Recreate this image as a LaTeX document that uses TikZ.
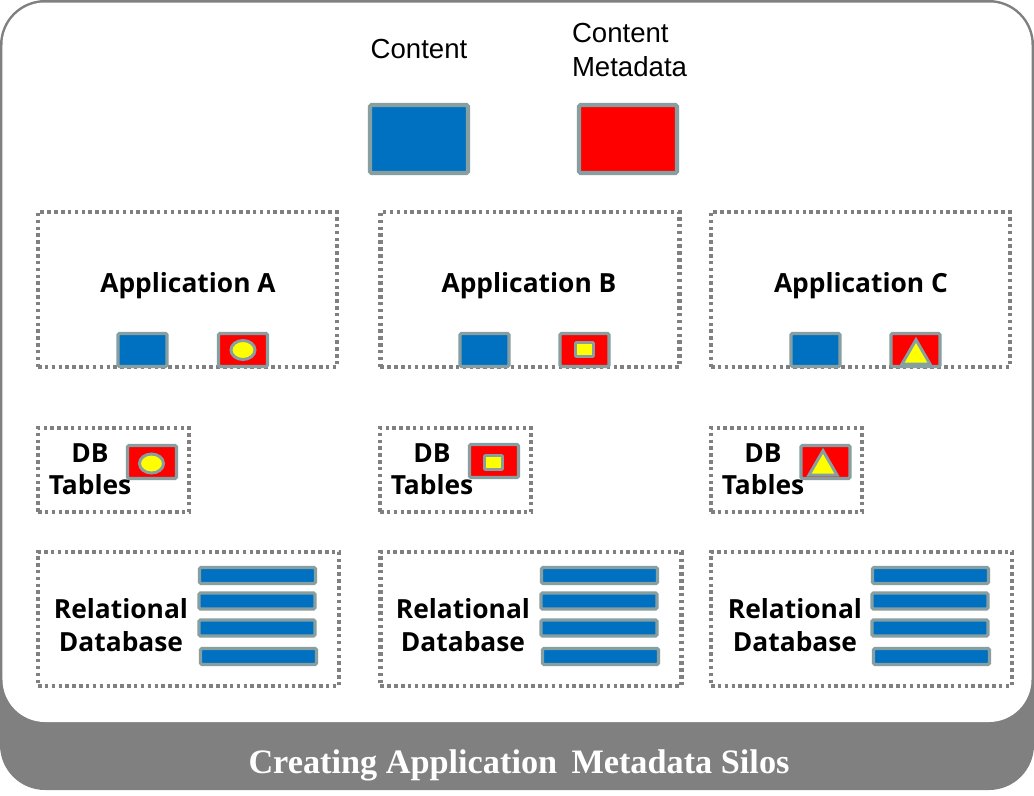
\documentclass[tikz,border=0pt]{standalone}
\usepackage{fontspec}
\setmainfont{Liberation Sans}
\newfontfamily\silofont{Open Sans}
\newfontfamily\capfont{Liberation Serif}
\usetikzlibrary{shapes.geometric}
\definecolor{contblue}{HTML}{0070C0}
\definecolor{metared}{HTML}{FF0000}
\definecolor{rim}{HTML}{879FA0}
\definecolor{dotgray}{HTML}{808080}
\definecolor{framegray}{HTML}{808080}
\definecolor{markyel}{HTML}{FFFF00}

\begin{document}
\begin{tikzpicture}[
  x=0.2mm, y=-0.2mm,
  every node/.style={inner sep=0pt, outer sep=0pt},
  silo/.style={draw=dotgray, line width=2.4pt, dash pattern=on 2pt off 1.9pt},
  appbox/.style={silo, minimum width=59.8mm, minimum height=31mm},
  dbbox/.style={silo, minimum width=30.2mm, minimum height=16.8mm},
  relbox/.style={silo, minimum width=60.2mm, minimum height=26.8mm},
  chip/.style={draw=rim, line width=1.8pt, rounded corners=0.8pt,
     minimum width=9.8mm, minimum height=6.6mm},
  cont/.style={chip, fill=contblue},
  meta/.style={chip, fill=metared},
  big/.style={line width=2.3pt, minimum width=19.6mm, minimum height=13.6mm},
  bar/.style={chip, fill=contblue, minimum width=23.2mm, minimum height=3.2mm},
  dot/.style={ellipse, draw=rim, fill=markyel, line width=1.7pt,
     minimum width=4.8mm, minimum height=3.8mm},
  sq/.style={draw=rim, fill=markyel, line width=1.7pt, rounded corners=0.6pt,
     minimum width=3.6mm, minimum height=2.8mm},
  tri/.style={regular polygon, regular polygon sides=3, draw=rim, fill=markyel,
     line width=1.7pt, minimum size=6.5mm},
  lbl/.style={font=\silofont\fontsize{15}{18.5}\selectfont\bfseries, align=center},
  legend/.style={font=\fontsize{15.7}{19.5}\selectfont},
]
\useasboundingbox (0,0) rectangle (1034,796);
% --- frame ---
\fill[framegray, rounded corners=9mm] (0,0) rectangle (1034,790);
\fill[white, rounded corners=8.5mm] (2.5,2.5) rectangle (1031.5,722);
\node[font=\capfont\fontsize{19.5}{22}\selectfont\bfseries, text=white] (cap) at (519,765)
  {Creating Application\, Metadata Silos};
% --- legend ---
\node[legend] (ltxt) at (419,49) {Content};
\node[legend, align=left, anchor=west] (mtxt) at (572,50) {Content\\Metadata};
\node[cont, big] (lcont) at (419,139) {};
\node[meta, big] (lmeta) at (628,139) {};
% --- applications ---
\node[appbox] (appA) at (187.5,289.5) {};
\node[appbox] (appB) at (530,289.5) {};
\node[appbox] (appC) at (860.5,289.5) {};
\node[lbl] (appAtxt) at (188,286) {Application A};
\node[lbl] (appBtxt) at (529,286) {Application B};
\node[lbl] (appCtxt) at (861,286) {Application C};
\node[cont] (cA) at (142.5,350) {};
\node[meta] (mA) at (243,350) {};
\node[dot]  (dA) at (mA) {};
\node[cont] (cB) at (484.5,350) {};
\node[meta] (mB) at (584.5,350) {};
\node[sq]   (sB) at (584.5,349.5) {};
\node[cont] (cC) at (815.5,350) {};
\node[meta] (mC) at (915.5,350) {};
\node[tri]  (tC) at (916,356) {};
% --- db tables ---
\node[dbbox] (dbA) at (113.5,470) {};
\node[dbbox] (dbB) at (455.5,470) {};
\node[dbbox] (dbC) at (786.5,470) {};
\node[lbl] (dbAtxt) at (90,469) {DB\\Tables};
\node[lbl] (dbBtxt) at (432,469) {DB\\Tables};
\node[lbl] (dbCtxt) at (763,469) {DB\\Tables};
\node[meta] (tA) at (152,462) {};
\node[dot]  (tdA) at (151.5,463.5) {};
\node[meta] (tB) at (494,461) {};
\node[sq]   (tsB) at (493.5,462.5) {};
\node[meta] (tCm) at (825.5,462) {};
\node[tri]  (ttC) at (823,467) {};
% --- relational databases ---
\node[relbox] (relA) at (188.5,619) {};
\node[relbox] (relB) at (531,619) {};
\node[relbox] (relC) at (861.5,619) {};
\node[lbl] (relAtxt) at (121,625) {Relational\\Database};
\node[lbl] (relBtxt) at (463,625) {Relational\\Database};
\node[lbl] (relCtxt) at (795,625) {Relational\\Database};
\node[bar] (rA1) at (257.5,575.5) {};
\node[bar] (rA2) at (257,601) {};
\node[bar] (rA3) at (257,628) {};
\node[bar] (rA4) at (258.5,656.5) {};
\node[bar] (rB1) at (599.5,575.5) {};
\node[bar] (rB2) at (599,601) {};
\node[bar] (rB3) at (599,628) {};
\node[bar] (rB4) at (600.5,656.5) {};
\node[bar] (rC1) at (930.5,575.5) {};
\node[bar] (rC2) at (930,601) {};
\node[bar] (rC3) at (930,628) {};
\node[bar] (rC4) at (931.5,656.5) {};
\end{tikzpicture}
\end{document}
